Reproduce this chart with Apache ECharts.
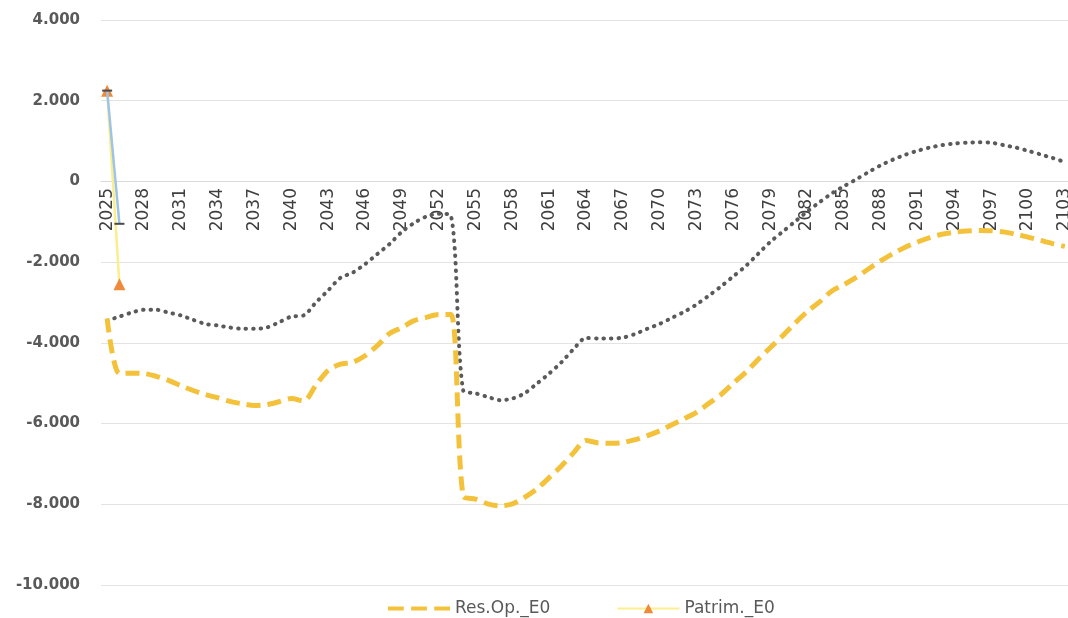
<!DOCTYPE html>
<html><head><meta charset="utf-8">
<script src="https://cdn.jsdelivr.net/npm/echarts@6/dist/echarts.min.js"></script>
<style>html,body{margin:0;padding:0;background:#fff}#c{width:1068px;height:618px}</style>
</head><body><div id="c"></div>
<script>
var years = [];
for (var y = 2025; y <= 2103; y++) years.push(String(y));

var resOp = [-3400,-4760,-4750,-4760,-4830,-4930,-5060,-5180,-5280,-5360,
  -5450,-5510,-5550,-5530,-5460,-5380,-5440,-5050,-4680,-4530,
  -4480,-4320,-4070,-3770,-3620,-3450,-3370,-3300,-3300,-7800,
  -7870,-7990,-8040,-7990,-7830,-7620,-7340,-7050,-6720,-6420,
  -6480,-6490,-6470,-6400,-6300,-6180,-6030,-5880,-5720,-5500,
  -5280,-5000,-4730,-4420,-4120,-3830,-3520,-3230,-2990,-2720,
  -2560,-2380,-2170,-1970,-1790,-1630,-1500,-1390,-1310,-1260,
  -1230,-1215,-1220,-1250,-1310,-1380,-1460,-1540,-1610];

var grey = [-3450,-3350,-3250,-3180,-3180,-3250,-3320,-3430,-3530,-3570,
  -3620,-3650,-3650,-3620,-3490,-3350,-3320,-3000,-2700,-2390,
  -2260,-2050,-1800,-1550,-1250,-1030,-870,-800,-850,-5180,
  -5250,-5340,-5420,-5380,-5250,-5010,-4760,-4480,-4150,-3880,
  -3890,-3890,-3870,-3780,-3650,-3530,-3380,-3230,-3050,-2830,
  -2600,-2350,-2100,-1800,-1500,-1250,-1000,-750,-520,-300,
  -120,50,230,400,540,660,760,840,900,940,
  960,970,960,900,840,760,670,580,480];

var patrim = [2250,-2550];
var blue = [2250,-1050];

var fmt = function(v){
  var s = Math.abs(v).toString().replace(/\B(?=(\d{3})+(?!\d))/g,'.');
  return (v<0?'-':'') + s;
};

var GRID_TOP = 20, GRID_H = 565, YMIN = -10000, YMAX = 4000;
var zeroOffset = -Math.round(GRID_H * (0 - YMIN) / (YMAX - YMIN));

var chart = echarts.init(document.getElementById('c'));
chart.setOption({
  animation:false,
  backgroundColor:'#fff',
  grid:{left:101, top:GRID_TOP, width:970, height:GRID_H, containLabel:false, outerBoundsMode:'none'},
  legend:{
    top:595, left:383,
    itemWidth:62, itemHeight:12, itemGap:66,
    textStyle:{fontFamily:'DejaVu Sans', fontSize:17, color:'#595959'},
    data:[
      {name:'Res.Op._E0', icon:'path://M0,0h15v4h-15z M22,0h15v4h-15z M44,0h15v4h-15z', itemStyle:{color:'#F3C23A'}},
      {name:'Patrim._E0'}
    ]
  },
  xAxis:{
    type:'category', data:years, boundaryGap:true, position:'bottom', offset:zeroOffset,
    axisLine:{show:true, onZero:false, lineStyle:{color:'#d9d9d9', width:1}},
    axisTick:{show:false},
    axisLabel:{interval:2, rotate:90, margin:7, fontFamily:'DejaVu Sans', fontSize:17, color:'#404040'}
  },
  yAxis:{
    type:'value', min:YMIN, max:YMAX, interval:2000,
    axisLine:{show:false}, axisTick:{show:false},
    splitLine:{lineStyle:{color:'#e3e3e3', width:1}},
    axisLabel:{formatter:fmt, margin:21, fontFamily:'DejaVu Sans', fontWeight:'bold', fontSize:15, color:'#595959'}
  },
  series:[
    {name:'Res.Op._E0', type:'line', data:resOp, smooth:0.3, symbol:'none',
     lineStyle:{color:'#F3C23A', width:5, type:[14,7]}, itemStyle:{color:'#F3C23A'}, z:3},
    {name:'Grey', type:'line', data:grey, smooth:0.3, symbol:'none',
     lineStyle:{color:'#5a5a5a', width:4, type:[0.5,7], cap:'round'}, itemStyle:{color:'#5a5a5a'}, z:2},
    {name:'Patrim._E0', type:'line', data:patrim, symbol:'triangle', symbolSize:12, showAllSymbol:true,
     lineStyle:{color:'#FBEE8C', width:2.5}, itemStyle:{color:'#EE8A3A', borderWidth:0}, z:4},
    {name:'Blue', type:'line', data:blue, symbol:'rect', symbolSize:[10,2], showAllSymbol:true,
     lineStyle:{color:'#9EC3E8', width:2.5}, itemStyle:{color:'#4a4a4a'}, z:5}
  ]
});
</script></body></html>
